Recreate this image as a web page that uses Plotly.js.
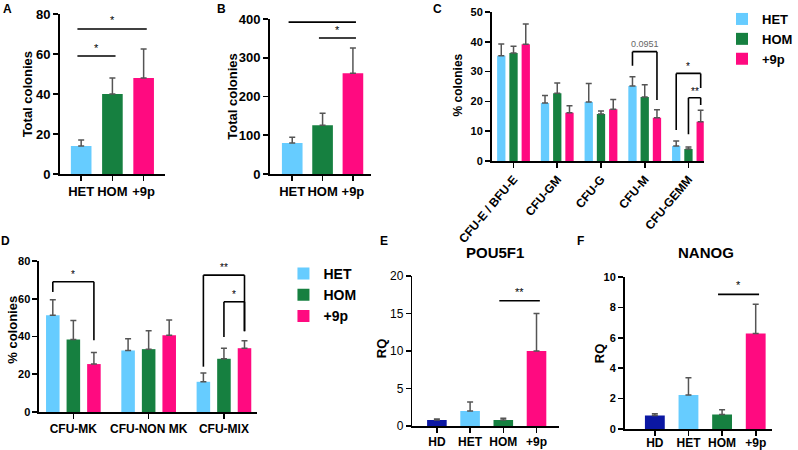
<!DOCTYPE html>
<html>
<head>
<meta charset="utf-8">
<script src="https://cdn.plot.ly/plotly-3.0.1.min.js"></script>
<style>html,body{margin:0;padding:0;background:#fff}#chart{width:798px;height:450px}</style>
</head>
<body>
<div id="chart"></div>
<script>
// genotype groups and colours
const groups = ['HET', 'HOM', '+9p'];
const groupColors = ['#66ccff', '#168040', '#ff0a80'];
const hdColor = '#0b17a3';

// A: total colonies
const totalA = [14, 40, 48];
const errA = [3, 8, 14.5];

// B: total colonies
const totalB = [80, 126, 260];
const errB = [15, 31, 65];

// C: % colonies per colony type
const typesC = ['CFU-E / BFU-E', 'CFU-GM', 'CFU-G', 'CFU-M', 'CFU-GEMM'];
const hetC = [35.3, 19.5, 19.8, 25.2, 5.0];
const hetCErr = [4.0, 2.5, 6.2, 3.1, 1.7];
const homC = [36.2, 22.7, 15.8, 21.5, 4.0];
const homCErr = [2.3, 3.5, 1.0, 4.1, 0.7];
const p9C = [39.2, 16.2, 17.4, 14.5, 13.2];
const p9CErr = [6.8, 2.3, 3.2, 2.7, 3.8];

// D: % colonies, MK assay
const typesD = ['CFU-MK', 'CFU-NON MK', 'CFU-MIX'];
const hetD = [51.3, 32.6, 16.0];
const hetDErr = [8.2, 6.2, 4.6];
const homD = [38.4, 33.3, 28.2];
const homDErr = [10.1, 9.7, 5.6];
const p9D = [25.4, 40.6, 33.8];
const p9DErr = [6.1, 8.2, 4.0];

// E, F: relative expression
const rqGroups = ['HD', 'HET', 'HOM', '+9p'];
const pou5f1 = [0.8, 2.0, 0.8, 10.0];
const pou5f1Err = [0.13, 1.2, 0.25, 5.0];
const nanog = [0.88, 2.23, 0.96, 6.28];
const nanogErr = [0.12, 1.14, 0.31, 1.92];

// significance marks: simple lines (a,b = bar positions) and brackets
const sigA = [{a: 0, b: 1, y: 59, label: '*', ly: 63}, {a: 0, b: 2, y: 72.5, label: '*', ly: 77}];
const sigB = [{a: 0, b: 2, y: 392, label: '**', ly: 412}, {a: 1, b: 2, y: 351, label: '*', ly: 371}];
const sigE = [{a: 2, b: 3, y: 16.7, label: '**', ly: 17.9}];
const sigF = [{a: 2, b: 3, y: 8.86, label: '*', ly: 9.5}];

const FONT = 'Arial, "Liberation Sans", sans-serif';
const W = 798, H = 450;
const px = v => v / W;
const py = v => 1 - v / H;

const offC = [-0.28, 0, 0.28];
const offD = [-0.273, 0, 0.273];

const sigC = [
  {cat: 3, a: 0, b: 2, top: 36.7, legA: 32, legB: 20.5, label: '0.0951', ly: 39.2, small: true},
  {cat: 4, a: 0, b: 2, top: 29.4, legA: 10.4, legB: 24.5, label: '*', ly: 31.6},
  {cat: 4, a: 1, b: 2, top: 21.2, legA: 9, legB: 18.8, label: '**', ly: 23.4}
];
const sigD = [
  {cat: 0, a: 0, b: 2, top: 69, legA: 63.6, legB: 38, label: '*', ly: 73},
  {cat: 2, a: 0, b: 2, top: 72.5, legA: 24, legB: 42.8, label: '**', ly: 76.5},
  {cat: 2, a: 1, b: 2, top: 58.4, legA: 39.7, legB: 42.8, label: '*', ly: 62}
];

function errBar(arr) {
  return {type: 'data', array: arr, arrayminus: arr.map(() => 0), symmetric: false,
    color: '#555', thickness: 1.5, width: 3};
}

function bar(x, y, err, color, n, width, shift, extra) {
  return Object.assign({
    type: 'bar', x: x, y: y, error_y: errBar(err),
    marker: {color: color, line: {width: 0}},
    xaxis: 'x' + (n === 1 ? '' : n), yaxis: 'y' + (n === 1 ? '' : n),
    width: width, offset: shift - width / 2, showlegend: false, hoverinfo: 'skip'
  }, extra || {});
}

const data = [
  bar(groups, totalA, errA, groupColors, 1, 0.66, 0),
  bar(groups, totalB, errB, groupColors, 2, 0.68, 0),
  bar(typesC, hetC, hetCErr, groupColors[0], 3, 0.19, offC[0], {name: groups[0], showlegend: true, legend: 'legend'}),
  bar(typesC, homC, homCErr, groupColors[1], 3, 0.19, offC[1], {name: groups[1], showlegend: true, legend: 'legend'}),
  bar(typesC, p9C, p9CErr, groupColors[2], 3, 0.19, offC[2], {name: groups[2], showlegend: true, legend: 'legend'}),
  bar(typesD, hetD, hetDErr, groupColors[0], 4, 0.18, offD[0], {name: groups[0], showlegend: true, legend: 'legend2'}),
  bar(typesD, homD, homDErr, groupColors[1], 4, 0.18, offD[1], {name: groups[1], showlegend: true, legend: 'legend2'}),
  bar(typesD, p9D, p9DErr, groupColors[2], 4, 0.18, offD[2], {name: groups[2], showlegend: true, legend: 'legend2'}),
  bar(rqGroups, pou5f1, pou5f1Err, [hdColor].concat(groupColors), 5, 0.59, 0),
  bar(rqGroups, nanog, nanogErr, [hdColor].concat(groupColors), 6, 0.59, 0)
];

const common = {
  showline: true, linecolor: '#000', linewidth: 1.6, mirror: false,
  ticks: 'outside', ticklen: 5, tickwidth: 1.6, tickcolor: '#000',
  showgrid: false, zeroline: false, fixedrange: true
};

function xAx(x0, x1, range, size, anchor, angle, standoff) {
  return Object.assign({}, common, {
    domain: [px(x0), px(x1)], range: range, anchor: anchor, type: 'category',
    tickfont: {family: FONT, size: size, color: '#000', weight: 'bold'},
    tickangle: angle || 0, ticklabelstandoff: standoff || 0
  });
}
function yAx(yb, yt, range, dtick, size, bold, anchor) {
  return Object.assign({}, common, {
    domain: [py(yb), py(yt)], range: range, dtick: dtick, anchor: anchor,
    tickfont: {family: FONT, size: size, color: '#000', weight: bold ? 'bold' : 'normal'}
  });
}

const shapes = [];
const annotations = [];
const lineStyle = {color: '#000', width: 1.6};

function addLine(n, x0, y0, x1, y1) {
  const s = n === 1 ? '' : n;
  shapes.push({type: 'line', xref: 'x' + s, yref: 'y' + s, x0: x0, y0: y0, x1: x1, y1: y1, line: lineStyle});
}
function addText(n, x, y, text, size, color) {
  const s = n === 1 ? '' : n;
  annotations.push({xref: 'x' + s, yref: 'y' + s, x: x, y: y, text: text, showarrow: false,
    font: {family: FONT, size: size, color: color}, yanchor: 'middle'});
}

[[1, sigA], [2, sigB], [5, sigE], [6, sigF]].forEach(([n, list]) => {
  list.forEach(d => {
    addLine(n, d.a - 0.12, d.y, d.b + 0.1, d.y);
    addText(n, (d.a + d.b) / 2, d.ly, d.label, 11, '#000');
  });
});

[[3, sigC, offC], [4, sigD, offD]].forEach(([n, list, off]) => {
  list.forEach(d => {
    const xa = d.cat + off[d.a], xb = d.cat + off[d.b];
    addLine(n, xa, d.legA, xa, d.top);
    addLine(n, xa, d.top, xb, d.top);
    addLine(n, xb, d.top, xb, d.legB);
    addText(n, (xa + xb) / 2, d.ly, d.label, d.small ? 9 : 10, d.small ? '#666' : '#000');
  });
});

// y axis titles, placed by hand like the original figure
[['Total colonies', 28, 94, 13], ['Total colonies', 238, 97, 13], ['% colonies', 469, 85, 12],
 ['% colonies', 12, 330, 13], ['RQ', 390, 348, 13], ['RQ', 613, 353, 13]].forEach(([t, x, y, s]) => {
  annotations.push({xref: 'paper', yref: 'paper', x: px(x), y: py(y), text: '<b>' + t + '</b>',
    textangle: -90, showarrow: false, xanchor: 'center', yanchor: 'middle',
    font: {family: FONT, size: s, color: '#000'}});
});

// panel letters and gene titles
[['A', 8, 9], ['B', 227, 9], ['C', 448, 9], ['D', 6, 241], ['E', 393, 241], ['F', 594, 241]].forEach(([t, x, y]) => {
  annotations.push({xref: 'paper', yref: 'paper', x: px(x), y: py(y), text: '<b>' + t + '</b>',
    showarrow: false, xanchor: 'center', yanchor: 'middle', font: {family: FONT, size: 12, color: '#000'}});
});
[['POU5F1', 506, 253], ['NANOG', 722, 253]].forEach(([t, x, y]) => {
  annotations.push({xref: 'paper', yref: 'paper', x: px(x), y: py(y), text: '<b>' + t + '</b>',
    showarrow: false, xanchor: 'center', yanchor: 'middle', font: {family: FONT, size: 15, color: '#000'}});
});

const layout = {
  width: W, height: H,
  margin: {l: 0, r: 0, t: 0, b: 0},
  paper_bgcolor: '#fff', plot_bgcolor: 'rgba(0,0,0,0)',
  barmode: 'overlay',
  font: {family: FONT, color: '#000'},
  xaxis: xAx(61, 169, [-0.69, 2.69], 13, 'y'),
  yaxis: yAx(174, 14, [0, 80], 20, 13, true, 'x'),
  xaxis2: xAx(276, 380, [-0.74, 2.61], 13, 'y2'),
  yaxis2: yAx(174, 19, [0, 400], 100, 13, true, 'x2'),
  xaxis3: xAx(503, 720, [-0.5, 4.35], 12, 'y3', -50),
  yaxis3: yAx(161, 12, [0, 50], 10, 11, true, 'x3'),
  xaxis4: xAx(40, 263, [-0.455, 2.44], 12, 'y4'),
  yaxis4: yAx(412, 261, [0, 80], 20, 11, true, 'x4'),
  xaxis5: xAx(422, 572, [-0.735, 3.68], 12, 'y5', 0, -1),
  yaxis5: yAx(426, 276, [0, 20], 5, 12, false, 'x5'),
  xaxis6: xAx(639, 790, [-0.9, 3.49], 12, 'y6', 0, -3),
  yaxis6: yAx(429, 277, [0, 10], 2, 11, true, 'x6'),
  legend: {x: px(739), y: py(4), xanchor: 'left', yanchor: 'top', bgcolor: 'rgba(0,0,0,0)',
    font: {family: FONT, size: 13, color: '#000', weight: 'bold'}, itemclick: false, itemdoubleclick: false},
  legend2: {x: px(290), y: py(258), xanchor: 'left', yanchor: 'top', bgcolor: 'rgba(0,0,0,0)',
    font: {family: FONT, size: 14, color: '#000', weight: 'bold'}, itemclick: false, itemdoubleclick: false},
  shapes: shapes,
  annotations: annotations
};

Plotly.newPlot('chart', data, layout, {displayModeBar: false, staticPlot: true});
</script>
</body>
</html>
